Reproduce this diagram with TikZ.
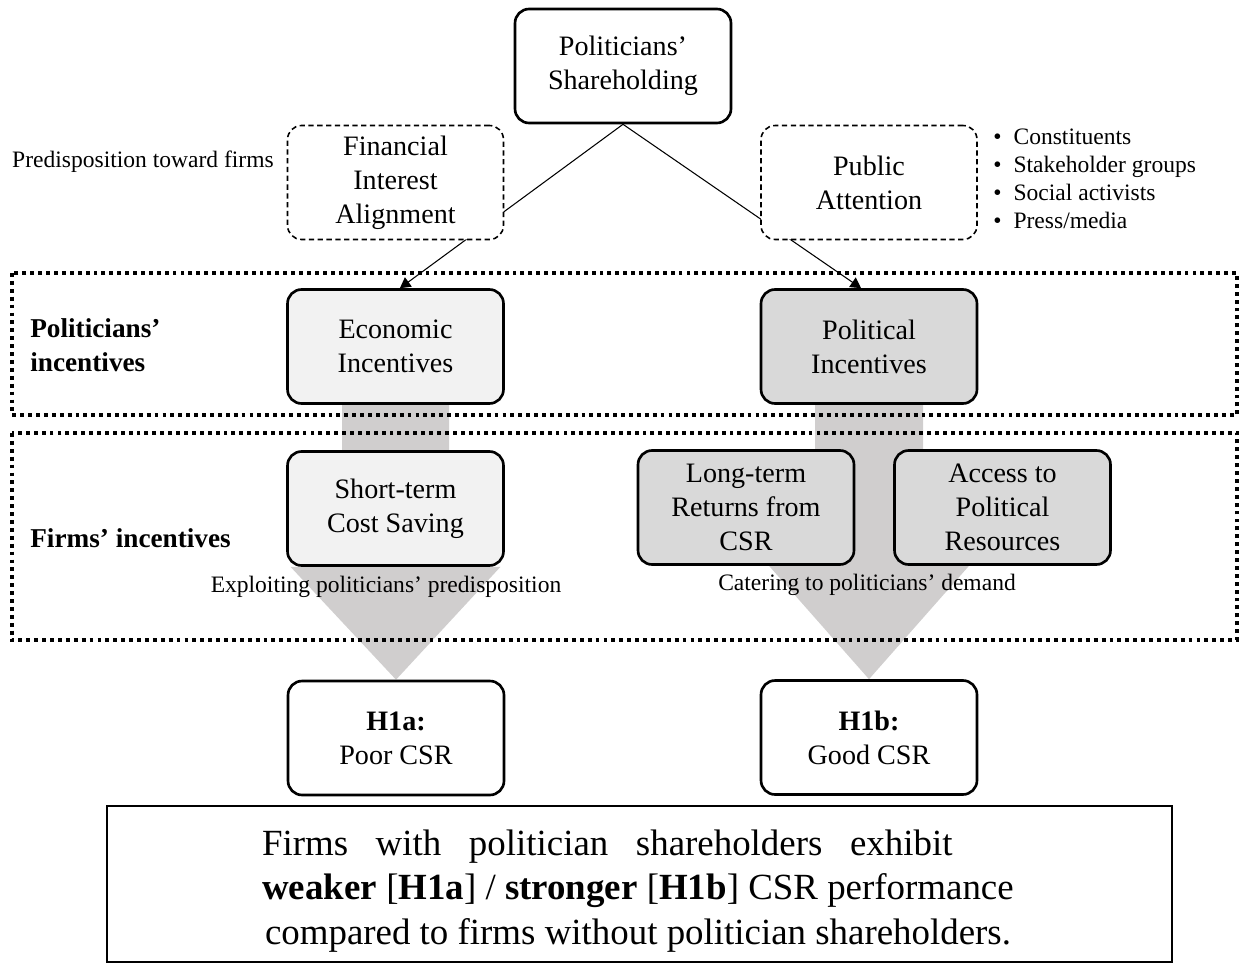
\documentclass[tikz,border=0pt]{standalone}
\usepackage{fontspec}
\setmainfont{Liberation Serif}
\usetikzlibrary{arrows.meta,calc}
\pgfdeclarelayer{bg}
\pgfsetlayers{bg,main}

\begin{document}
\begin{tikzpicture}[x=0.02cm, y=-0.02cm, every node/.style={inner sep=0pt}]
  \tikzset{box/.style={rectangle, rounded corners=8pt, draw=black, line width=1.5pt, fill=white, minimum width=4.32cm, minimum height=2.28cm, align=center, font=\fontsize{16}{19.3}\selectfont}}
  \tikzset{dbox/.style={box, line width=0.9pt, dash pattern=on 3pt off 2pt}}
  \tikzset{lbox/.style={box, fill={rgb,255:red,242;green,242;blue,242}}}
  \tikzset{gbox/.style={box, fill={rgb,255:red,217;green,217;blue,217}}}
  \tikzset{zone/.style={draw=black, line width=2.2pt, dash pattern=on 2.2pt off 2.3pt}}
  \tikzset{link/.style={draw=black, line width=0.6pt, -{Triangle[length=6pt, width=6.5pt]}}}
  \tikzset{fat/.style={fill={rgb,255:red,208;green,206;blue,206}}}
  \tikzset{note/.style={font=\fontsize{13.4}{15.9}\selectfont}}
  \tikzset{side/.style={anchor=west, align=left, font=\fontsize{15.5}{19.3}\selectfont\bfseries}}
  \useasboundingbox (0,0) rectangle (1241,963);
  % boxes
  \node[box] (share) at (623,66) {Politicians'\\Shareholding};
  \node[dbox] (align) at (395.5,182.5) {Financial\\Interest\\Alignment};
  \node[dbox] (attn) at (869,182.5) {Public\\Attention};
  \node[lbox] (econ) at (395.5,346.5) {Economic\\Incentives};
  \node[gbox] (polit) at (869,346.5) {Political\\Incentives};
  \node[lbox] (cost) at (395.5,508.5) {Short-term\\Cost Saving};
  \node[gbox] (lterm) at (746,507.5) {Long-term\\Returns from\\CSR};
  \node[gbox] (access) at (1002.5,507.5) {Access to\\Political\\Resources};
  \node[box] (h1a) at (396,738) {\textbf{H1a:}\\Poor CSR};
  \node[box] (h1b) at (869,737.5) {\textbf{H1b:}\\Good CSR};
  % zones
  \draw[zone] (12,273) rectangle (1237,415);
  \draw[zone] (12,433) rectangle (1237,640);
  % labels
  \node[note] (pred) at (143,162) {Predisposition toward firms};
  \node[note, anchor=west, align=left] (who) at (993,179) {\makebox[11.5pt][l]{\textbullet}Constituents\\\makebox[11.5pt][l]{\textbullet}Stakeholder groups\\\makebox[11.5pt][l]{\textbullet}Social activists\\\makebox[11.5pt][l]{\textbullet}Press/media};
  \node[side] (pinc) at (30,345) {Politicians'\\incentives};
  \node[side] (finc) at (30,538) {Firms' incentives};
  \node[note] (expl) at (386,587) {Exploiting politicians' predisposition};
  \node[note] (cater) at (867,585) {Catering to politicians' demand};
  \node[draw=black, line width=1pt, minimum width=21.3cm, minimum height=3.12cm] (claim) at (639.5,884) {};
  \node[align=center, font=\fontsize{21}{25.5}\selectfont] (claimtxt) at (638,891) {\makebox[428pt][l]{\makebox[393pt][s]{Firms with politician shareholders exhibit}}\\\textbf{weaker} [\textbf{H1a}] / \textbf{stronger} [\textbf{H1b}] CSR performance\\compared to firms without politician shareholders.};
  % links and flows
  \begin{pgfonlayer}{bg}
    \draw[link] (share.south) -- ([xshift=2.5pt]econ.north);
    \draw[link] (share.south) -- ([xshift=-4.5pt]polit.north);
    \fill[fat] ($(econ.south)+(-53.5,-30)$) -- ($(econ.south)+(53.5,-30)$) -- ($(cost.south)+(53.5,0)$) -- ($(cost.south)+(105,0)$) -- (h1a.north) -- ($(cost.south)+(-105,0)$) -- ($(cost.south)+(-53.5,0)$) -- cycle;
    \fill[fat] ($(polit.south)+(-54,-30)$) -- ($(polit.south)+(54,-30)$) -- ($(h1b.north |- lterm.south)+(54,0)$) -- ($(h1b.north |- lterm.south)+(100,0)$) -- (h1b.north) -- ($(h1b.north |- lterm.south)+(-100,0)$) -- ($(h1b.north |- lterm.south)+(-54,0)$) -- cycle;
  \end{pgfonlayer}
\end{tikzpicture}
\end{document}
